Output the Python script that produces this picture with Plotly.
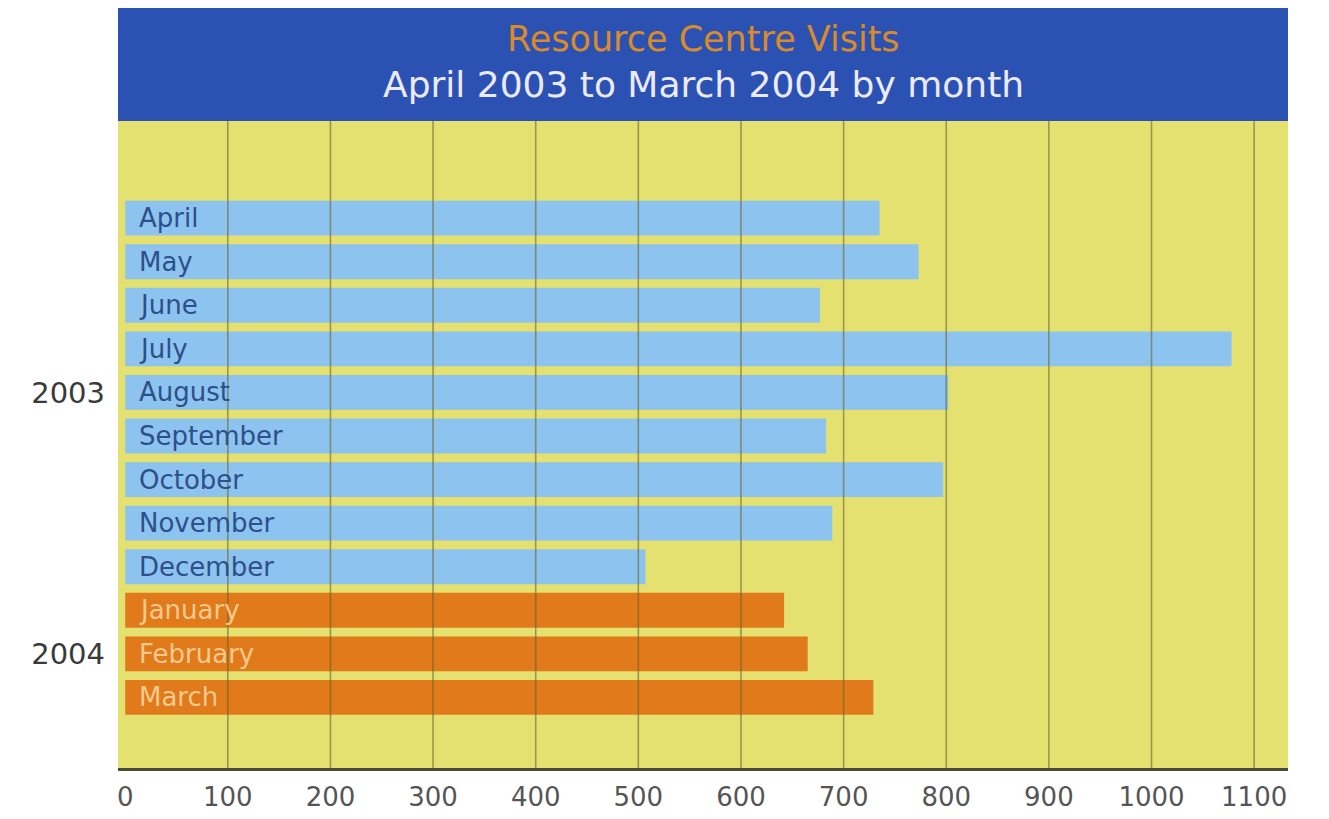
import plotly.graph_objects as go

months = ["April", "May", "June", "July", "August", "September", "October",
          "November", "December", "January", "February", "March"]
years = ["2003"] * 9 + ["2004"] * 3
visits = [735, 773, 677, 1078, 802, 683, 797, 689, 507, 642, 665, 729]
year_ticks = ["August", "February"]
year_labels = ["2003", "2004"]
x_ticks = [0, 100, 200, 300, 400, 500, 600, 700, 800, 900, 1000, 1100]

title = "Resource Centre Visits"
subtitle = "April 2003 to March 2004 by month"

BLUE_BAR = "#8dc3ef"
ORANGE_BAR = "#e07a1a"
BG_YELLOW = "#e5e171"
BAND_BLUE = "#2b52b3"
FONT = "DejaVu Sans"

colors = [BLUE_BAR if y == "2003" else ORANGE_BAR for y in years]
text_colors = ["#2d4f8a" if y == "2003" else "#f7c98f" for y in years]

fig = go.Figure()
fig.add_trace(go.Bar(
    x=visits, y=months, orientation="h",
    marker=dict(color=colors, line=dict(width=0)),
    width=0.8, hoverinfo="x+y",
))

# month labels inside bars
for m, c in zip(months, text_colors):
    fig.add_annotation(x=0, y=m, xref="x", yref="y", text=m, showarrow=False,
                       xanchor="left", yanchor="middle", xshift=12,
                       font=dict(family=FONT, size=26, color=c))

# gridlines drawn above the bars
for t in x_ticks[1:]:
    fig.add_shape(type="line", xref="x", yref="paper", x0=t, x1=t, y0=0, y1=1,
                  line=dict(color="rgba(105,100,45,0.6)", width=1.6), layer="above")

# title band
fig.add_shape(type="rect", xref="paper", yref="paper", x0=0, x1=1, y0=1, y1=1.18,
              fillcolor=BAND_BLUE, line=dict(width=0), layer="above")
fig.add_annotation(xref="paper", yref="paper", x=0.5, y=1.126, yanchor="middle",
                   text=title, showarrow=False,
                   font=dict(family=FONT, size=35, color="#d98a2a"))
fig.add_annotation(xref="paper", yref="paper", x=0.5, y=1.057, yanchor="middle",
                   text=subtitle, showarrow=False,
                   font=dict(family=FONT, size=36, color="#eceaff"))

fig.update_layout(
    width=1313, height=811,
    margin=dict(l=110, r=33, t=113, b=51, autoexpand=False),
    paper_bgcolor="white", plot_bgcolor=BG_YELLOW,
    showlegend=False, bargap=0.2,
    xaxis=dict(range=[-7, 1133], tickvals=x_ticks, showgrid=False, zeroline=False,
               showline=True, linecolor="#4d4b35", linewidth=3,
               ticks="", ticklabelstandoff=4, automargin=False,
               tickfont=dict(family=FONT, size=26, color="#555555")),
    yaxis=dict(categoryorder="array", categoryarray=months,
               range=[12.62, -2.23], tickvals=year_ticks, ticktext=year_labels,
               showgrid=False, zeroline=False, showline=False, ticks="",
               ticklabelstandoff=12, automargin=False,
               tickfont=dict(family=FONT, size=29, color="#3a3a3a")),
)

fig.write_html("out.html")
